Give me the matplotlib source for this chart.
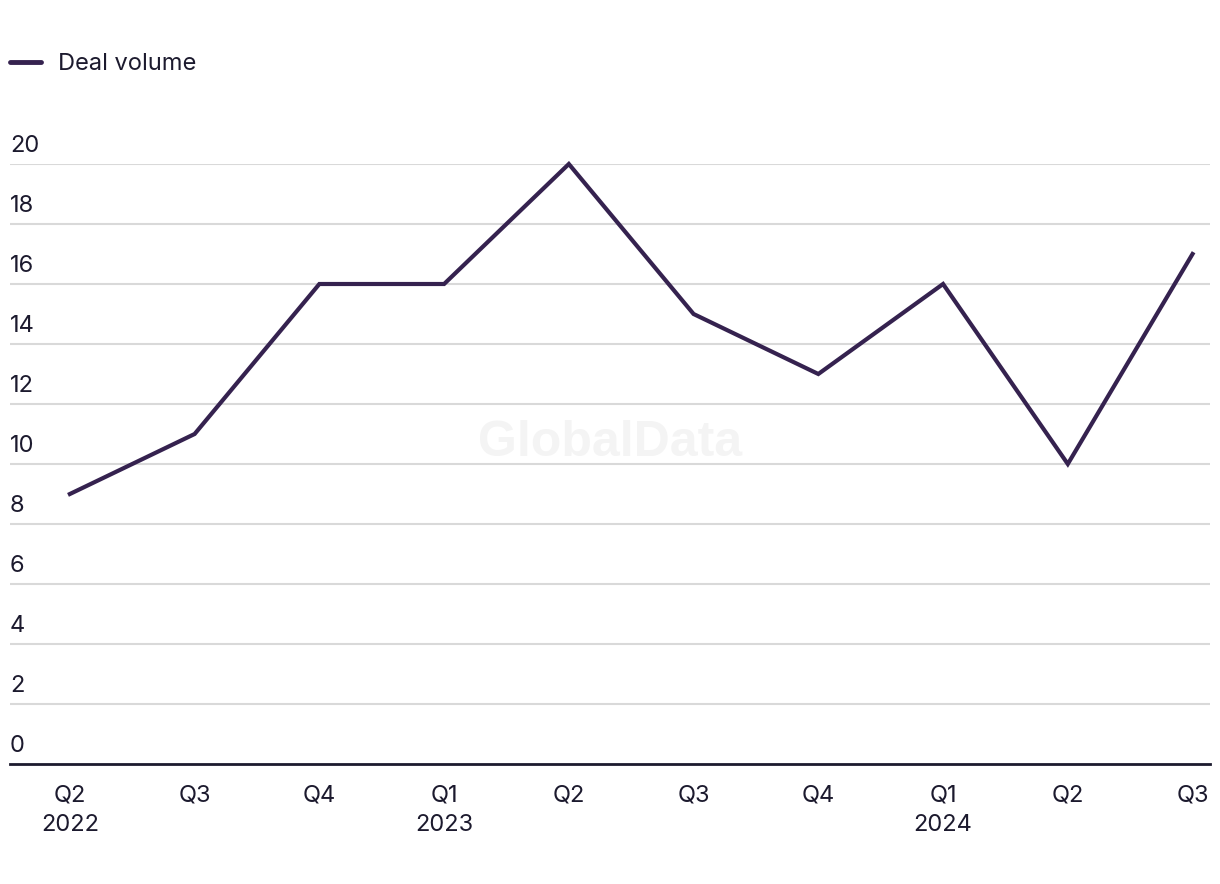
import matplotlib
matplotlib.use("Agg")
import matplotlib.pyplot as plt
import matplotlib.transforms as mtransforms
import numpy as np

quarters = ["Q2\n2022", "Q3", "Q4", "Q1\n2023", "Q2", "Q3", "Q4", "Q1\n2024", "Q2", "Q3"]
deal_volume = [9, 11, 16, 16, 20, 15, 13, 16, 10, 17]
y_ticks = [0, 2, 4, 6, 8, 10, 12, 14, 16, 18, 20]

plt.rcParams["font.family"] = ["Inter", "DejaVu Sans"]
line_color = "#35224f"
text_color = "#1c1a2e"

fig = plt.figure(figsize=(12.2, 8.84), dpi=100)
ax = fig.add_axes([10 / 1220, 120 / 884, 1200 / 1220, 600 / 884])

x = np.arange(len(quarters))
ax.plot(x, deal_volume, color=line_color, lw=3, clip_on=False, zorder=3,
        solid_joinstyle="miter")

ax.set_xlim(-0.48, 9.14)
ax.set_ylim(0, 20)

# horizontal grid lines
for v in y_ticks[1:]:
    ax.axhline(v, color="#d9d9d9", lw=1.5, zorder=1)
ax.axhline(0, color=text_color, lw=2, zorder=2, clip_on=False)

# y labels sit above their grid lines, left aligned
trans = mtransforms.blended_transform_factory(ax.transAxes, ax.transData)
for v in y_ticks:
    ax.text(0, v + 0.22, str(v), transform=trans, ha="left", va="bottom",
            fontsize=17, color=text_color)

ax.set_yticks([])
ax.set_xticks(x)
ax.set_xticklabels(quarters, fontsize=17, color=text_color, linespacing=1.45)
ax.tick_params(axis="x", length=0, pad=15)
for s in ax.spines.values():
    s.set_visible(False)

# watermark
ax.text(0.5, 0.535, "GlobalData", transform=ax.transAxes, ha="center", va="center",
        fontsize=36, fontweight="bold", color="#f4f4f4", zorder=0,
        family=["Liberation Sans", "DejaVu Sans"])

# legend
fig.legend(handles=[plt.Line2D([], [], color=line_color, lw=3.5, solid_capstyle="round")],
           labels=["Deal volume"], loc="center left", bbox_to_anchor=(10 / 1220, 1 - 64 / 884),
           frameon=False, fontsize=17, handlelength=1.3, handletextpad=0.75,
           labelcolor=text_color, borderaxespad=0, borderpad=0)

fig.savefig("out.png", dpi=100)
